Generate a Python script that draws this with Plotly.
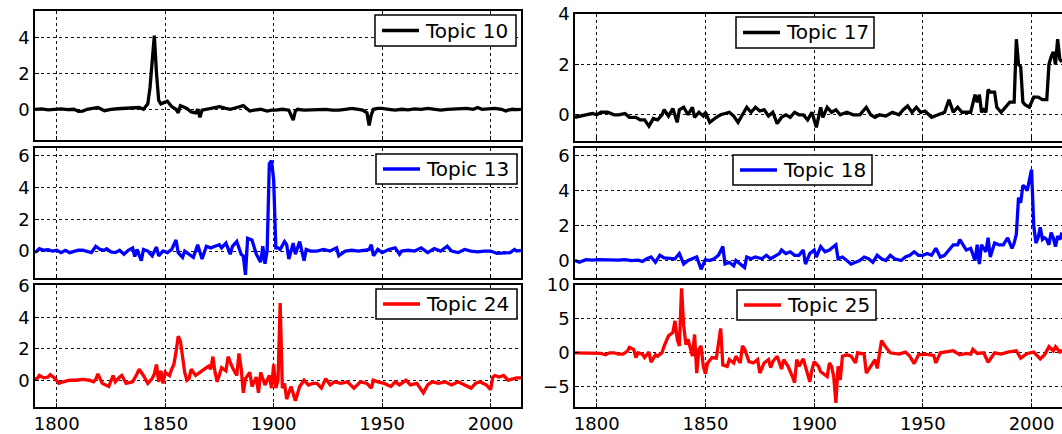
import plotly.graph_objects as go

# ---------------- data ----------------
years_10 = [1790, 1793, 1796, 1799, 1802, 1805, 1808, 1810, 1812, 1814,
            1816, 1819, 1822, 1825, 1828, 1831, 1834, 1836, 1838, 1840,
            1842, 1843, 1844, 1845, 1846, 1847, 1848, 1849, 1851, 1853,
            1855, 1856, 1857, 1858, 1860, 1862, 1864, 1865, 1866, 1867,
            1869, 1872, 1875, 1878, 1880, 1883, 1886, 1888, 1889, 1891,
            1894, 1897, 1899, 1901, 1904, 1907, 1908, 1909, 1910, 1911,
            1914, 1917, 1920, 1924, 1927, 1930, 1933, 1936, 1939, 1941,
            1943, 1944, 1945, 1946, 1948, 1950, 1953, 1956, 1959, 1962,
            1965, 1968, 1971, 1974, 1977, 1980, 1983, 1986, 1989, 1992,
            1994, 1996, 1999, 2002, 2005, 2007, 2008, 2010, 2012, 2014]
topic_10 = [0.0, 0.02, -0.03, 0.0, 0.02, -0.02, 0.0, -0.12, -0.1, 0.0,
            0.05, 0.1, -0.08, 0.0, 0.03, 0.05, 0.08, 0.05, 0.1, 0.0,
            0.3, 1.2, 2.8, 4.1, 2.0, 0.5, 0.3, 0.35, 0.45, 0.15,
            0.0, -0.2, 0.2, 0.15, 0.05, -0.15, -0.2, 0.0, -0.45, -0.05,
            0.0, 0.05, 0.15, 0.05, 0.0, 0.1, 0.2, 0.0, -0.1, -0.05,
            0.0, -0.1, -0.05, -0.05, 0.0, -0.05, -0.3, -0.6, -0.1, 0.0,
            -0.05, -0.03, 0.0, 0.0, -0.05, -0.05, 0.0, 0.05, 0.0, -0.05,
            -0.2, -0.9, -0.3, 0.0, 0.05, 0.05, 0.0, -0.05, 0.0, -0.03,
            0.02, 0.0, 0.05, 0.0, -0.05, 0.0, 0.02, 0.0, 0.05, 0.0,
            0.1, 0.0, 0.02, 0.05, 0.0, -0.1, -0.05, 0.0, -0.02, 0.0]

years_13 = [1790, 1791, 1792, 1794, 1796, 1798, 1800, 1802, 1804, 1806,
            1808, 1810, 1812, 1814, 1816, 1818, 1820, 1822, 1823, 1825,
            1827, 1829, 1831, 1833, 1835, 1836, 1837, 1839, 1840, 1842,
            1844, 1846, 1847, 1849, 1851, 1853, 1855, 1856, 1858, 1859,
            1861, 1863, 1865, 1867, 1869, 1871, 1873, 1875, 1876, 1878,
            1880, 1881, 1883, 1885, 1886, 1887, 1888, 1890, 1892, 1894,
            1895, 1896, 1897, 1898, 1899, 1900, 1901, 1902, 1903, 1905,
            1906, 1907, 1909, 1910, 1912, 1914, 1915, 1917, 1920, 1923,
            1926, 1929, 1930, 1933, 1936, 1939, 1942, 1944, 1945, 1946,
            1948, 1950, 1953, 1956, 1958, 1959, 1962, 1965, 1968, 1971,
            1974, 1977, 1980, 1982, 1985, 1988, 1991, 1994, 1997, 2000,
            2003, 2006, 2009, 2011, 2012, 2014]
topic_13 = [-0.1, 0.05, 0.15, 0.05, 0.08, 0.0, 0.05, -0.1, 0.05, -0.1,
            0.0, 0.05, 0.05, 0.0, -0.1, 0.3, 0.1, 0.05, 0.15, -0.05,
            -0.1, 0.05, -0.2, 0.05, 0.2, -0.35, 0.1, -0.6, 0.1, 0.0,
            -0.3, 0.25, -0.3, 0.0, -0.1, 0.1, 0.7, -0.1, -0.4, 0.0,
            -0.2, -0.4, 0.4, -0.5, 0.3, 0.2, 0.3, 0.4, 0.2, 0.5,
            -0.2, 0.3, 0.6, -0.2, -0.3, -1.5, 0.8, 0.7, -0.2, -0.7,
            0.3, -0.8, 0.0, 5.5, 5.7, 4.5, 0.2, 0.2, 0.1, 0.6,
            0.4, -0.5, 0.5, -0.2, 0.6, -0.6, 0.1, 0.0, 0.0, 0.1,
            0.0, 0.2, -0.3, 0.0, 0.05, 0.0, 0.05, 0.1, 0.4, -0.3,
            0.1, -0.1, 0.1, 0.2, -0.2, 0.0, 0.05, 0.0, 0.2, -0.1,
            0.15, 0.0, 0.3, 0.0, -0.1, 0.1, 0.0, -0.05, 0.0, 0.0,
            -0.15, -0.1, -0.1, 0.1, 0.0, 0.05]

years_24 = [1790, 1791, 1792, 1794, 1796, 1797, 1799, 1801, 1803, 1806,
            1809, 1812, 1815, 1817, 1818, 1819, 1821, 1823, 1824, 1826,
            1827, 1829, 1830, 1832, 1835, 1837, 1838, 1840, 1842, 1844,
            1845, 1846, 1847, 1848, 1849, 1850, 1852, 1853, 1854, 1855,
            1856, 1857, 1858, 1859, 1860, 1861, 1862, 1864, 1866, 1868,
            1870, 1871, 1872, 1873, 1874, 1876, 1878, 1879, 1881, 1883,
            1884, 1885, 1886, 1887, 1889, 1890, 1892, 1893, 1894, 1896,
            1898, 1899, 1900, 1901, 1902, 1903, 1904, 1905, 1906, 1908,
            1910, 1912, 1914, 1916, 1918, 1920, 1922, 1924, 1926, 1928,
            1931, 1934, 1937, 1940, 1943, 1945, 1946, 1948, 1951, 1954,
            1956, 1958, 1961, 1963, 1966, 1969, 1971, 1973, 1976, 1979,
            1982, 1985, 1988, 1991, 1993, 1995, 1998, 2000, 2001, 2002,
            2004, 2006, 2008, 2010, 2012, 2014]
topic_24 = [0.1, 0.1, 0.3, 0.15, 0.2, 0.35, 0.15, -0.2, -0.1, 0.0,
            0.0, 0.05, 0.0, -0.1, 0.05, 0.4, -0.2, -0.3, -0.4, 0.3,
            -0.1, 0.2, 0.3, -0.2, -0.1, 0.4, 0.7, 0.3, -0.2, 0.1,
            0.4, 1.0, -0.1, 0.6, -0.2, 0.5, 0.3, 0.7, 1.0, 1.8,
            2.8, 2.5, 1.5, 0.5, 0.0, 0.1, 0.7, 0.3, 0.5, 0.7,
            0.9, 0.7, 1.5, 0.5, -0.1, 0.8, 0.6, 1.5, 0.8, 0.3,
            1.7, 0.8, -0.8, 0.1, 0.5, -0.4, 0.2, -0.8, 0.5, -0.3,
            0.3, -0.5, 1.0, -0.5, 0.0, 4.9, -0.5, -0.2, -1.2, -0.4,
            -1.3, -0.4, 0.0, -0.3, -0.2, -0.2, -0.5, 0.1, -0.3, -0.1,
            -0.2, -0.1, -0.5, -0.1, -0.2, -0.5, 0.0, -0.1, -0.2, -0.4,
            -0.1, -0.3, 0.0, -0.3, -0.2, -0.8, -0.3, -0.1, -0.2, -0.1,
            -0.3, -0.1, -0.3, -0.5, -0.2, -0.1, -0.3, -0.6, 0.2, 0.3,
            0.2, 0.3, 0.0, 0.1, 0.15, 0.15]

years_17 = [1790, 1792, 1795, 1798, 1800, 1802, 1805, 1808, 1810, 1813,
            1815, 1818, 1820, 1822, 1824, 1826, 1828, 1830, 1831, 1833,
            1835, 1837, 1838, 1840, 1842, 1844, 1845, 1847, 1849, 1850,
            1852, 1855, 1857, 1859, 1861, 1863, 1865, 1867, 1869, 1871,
            1873, 1875, 1877, 1879, 1881, 1883, 1885, 1887, 1889, 1891,
            1893, 1895, 1897, 1899, 1901, 1903, 1904, 1906, 1908, 1910,
            1912, 1915, 1918, 1921, 1924, 1926, 1928, 1930, 1933, 1936,
            1939, 1941, 1943, 1945, 1947, 1949, 1951, 1954, 1957, 1960,
            1962, 1964, 1966, 1968, 1970, 1972, 1974, 1975, 1976, 1977,
            1978, 1979, 1980, 1981, 1983, 1984, 1986, 1988, 1990, 1992,
            1993, 1994, 1995, 1996, 1997, 1999, 2001, 2003, 2005, 2007,
            2008, 2009, 2010, 2011, 2012, 2013, 2014]
topic_17 = [-0.1, -0.05, 0.0, 0.05, 0.0, 0.1, 0.1, 0.0, 0.0, 0.05,
            -0.1, -0.1, -0.2, -0.2, -0.45, -0.15, -0.2, 0.0, 0.2, -0.05,
            0.25, -0.3, 0.2, 0.3, 0.0, 0.3, -0.1, 0.1, -0.05, 0.1,
            -0.3, -0.1, 0.0, 0.05, 0.1, -0.05, -0.3, 0.0, 0.3, 0.1,
            0.3, 0.15, 0.2, -0.05, 0.1, -0.35, -0.1, 0.0, -0.1, 0.1,
            0.0, 0.0, -0.2, 0.1, -0.5, 0.3, -0.1, 0.3, 0.1, 0.2,
            0.0, 0.1, 0.0, 0.0, 0.3, 0.0, -0.1, 0.0, -0.05, 0.1,
            0.0, 0.2, 0.35, 0.1, 0.3, 0.1, 0.15, -0.1, 0.0, 0.1,
            0.6, 0.1, 0.3, 0.1, 0.1, 0.1, 0.8, 0.5, 0.8, 0.1,
            0.2, 0.1, 1.0, 0.9, 0.9, 0.3, 0.1, 0.3, 0.5, 0.5,
            3.0, 2.0, 1.9, 0.5, 0.4, 0.3, 0.7, 0.7, 0.6, 0.6,
            2.0, 2.3, 2.5, 2.0, 3.0, 2.2, 2.1]

years_18 = [1790, 1792, 1795, 1798, 1801, 1804, 1807, 1810, 1813, 1816,
            1819, 1821, 1823, 1825, 1827, 1829, 1831, 1834, 1836, 1838,
            1840, 1842, 1845, 1846, 1848, 1850, 1852, 1854, 1856, 1858,
            1859, 1861, 1863, 1864, 1866, 1868, 1869, 1871, 1873, 1876,
            1878, 1880, 1882, 1884, 1885, 1887, 1889, 1891, 1893, 1895,
            1896, 1898, 1900, 1901, 1903, 1905, 1907, 1910, 1911, 1913,
            1915, 1917, 1919, 1921, 1923, 1925, 1927, 1929, 1931, 1933,
            1935, 1937, 1940, 1942, 1944, 1946, 1948, 1950, 1952, 1954,
            1956, 1958, 1960, 1962, 1964, 1966, 1967, 1969, 1970, 1972,
            1974, 1975, 1976, 1977, 1979, 1980, 1981, 1983, 1985, 1987,
            1989, 1991, 1992, 1993, 1994, 1995, 1996, 1997, 1998, 2000,
            2001, 2002, 2003, 2004, 2005, 2006, 2007, 2008, 2009, 2010,
            2011, 2012, 2013, 2014]
topic_18 = [0.0, -0.1, 0.05, 0.02, 0.05, 0.03, 0.05, 0.02, 0.05, 0.0,
            0.02, -0.05, 0.1, 0.2, -0.1, 0.3, 0.15, 0.1, 0.1, 0.4,
            -0.2, 0.0, 0.15, 0.2, -0.5, 0.05, 0.0, 0.1, 0.3, 0.8,
            -0.2, -0.1, -0.3, 0.0, -0.2, -0.4, 0.2, 0.1, 0.2, 0.1,
            0.3, 0.1, 0.25, 0.4, 0.6, 0.4, 0.5, 0.3, 0.3, 0.6,
            -0.2, 0.4, 0.6, 0.2, 0.8, 0.5, 0.6, 0.9, 0.1, 0.2,
            0.0, -0.2, -0.1, 0.0, 0.2, 0.1, -0.1, 0.3, 0.1, 0.0,
            0.3, 0.1, 0.0, 0.2, 0.3, 0.5, 0.3, 0.3, 0.4, 0.3,
            0.7, 0.2, 0.3, 0.6, 0.9, 0.9, 1.2, 0.8, 0.6, 0.7,
            0.0, 0.9, -0.2, 0.9, 0.5, 1.3, 0.2, 1.0, 0.9, 0.9,
            1.3, 0.7, 1.0, 1.5, 3.6, 3.3, 4.3, 4.2, 4.0, 5.2,
            2.0, 1.0, 1.3, 1.9, 1.2, 1.3, 1.2, 0.9, 1.6, 1.3,
            0.8, 1.4, 1.2, 1.6]

years_25 = [1790, 1793, 1796, 1799, 1802, 1804, 1806, 1808, 1810, 1812,
            1814, 1815, 1817, 1818, 1819, 1821, 1822, 1824, 1825, 1827,
            1828, 1830, 1831, 1833, 1835, 1836, 1837, 1838, 1839, 1840,
            1841, 1842, 1843, 1844, 1845, 1846, 1847, 1848, 1849, 1850,
            1851, 1853, 1855, 1857, 1858, 1860, 1861, 1863, 1864, 1866,
            1867, 1868, 1870, 1872, 1874, 1875, 1877, 1879, 1880, 1881,
            1883, 1885, 1886, 1888, 1890, 1891, 1892, 1893, 1895, 1896,
            1898, 1899, 1900, 1902, 1903, 1906, 1907, 1908, 1909, 1910,
            1911, 1912, 1913, 1915, 1917, 1919, 1920, 1923, 1924, 1926,
            1928, 1929, 1931, 1933, 1935, 1939, 1942, 1944, 1946, 1948,
            1951, 1955, 1956, 1958, 1961, 1964, 1967, 1970, 1972, 1973,
            1975, 1978, 1980, 1983, 1986, 1989, 1993, 1995, 1998, 2001,
            2004, 2006, 2008, 2010, 2011, 2013, 2014]
topic_25 = [0.0, 0.0, -0.1, 0.0, -0.1, -0.3, 0.0, 0.0, -0.2, -0.2,
            0.2, 0.8, 0.5, -0.7, 0.0, -0.2, -0.7, 0.1, -1.4, -0.3,
            -0.5, 0.0, 1.0, 2.5, 3.0, 4.7, 2.0, 1.0, 9.5, 4.0,
            1.2, 2.0, 0.8, -0.5, 2.7, -3.0, 0.5, 1.0, -2.0, -3.1,
            -1.5, -0.7, -0.8, 3.6, -1.8, -2.0, -1.0, -1.5, -0.5, -1.5,
            1.0, 0.6, -1.3, -1.5, -1.0, -3.0, -1.5, -1.0, -2.2, -1.3,
            -0.5, -2.4, -1.0, -2.0, -3.5, -4.4, -1.0, -2.0, -0.9, -2.0,
            -4.3, -2.5, -1.3, -2.0, -2.8, -3.5, -1.5, -2.0, -3.5, -7.4,
            -2.0, -4.0, -0.5, -0.3, -0.5, -1.5, 0.0, -0.2, -3.0, -2.0,
            -1.0, -2.3, 1.8, 0.8, 0.0, -0.2, 0.1, -0.5, -1.6, -0.3,
            -0.2, -0.4, -1.5, 0.0, 0.1, 0.3, -0.3, -0.1, -0.2, 0.5,
            -0.1, 0.0, -1.4, 0.0, -0.2, 0.1, 0.3, -0.8, -0.1, 0.1,
            -0.9, -0.3, 0.9, 0.3, 0.9, 0.1, 0.4]

names = ["Topic 10", "Topic 13", "Topic 24", "Topic 17", "Topic 18", "Topic 25"]
colors = ["#000000", "#0000ff", "#ff0000", "#000000", "#0000ff", "#ff0000"]
x_ticks = [1800, 1850, 1900, 1950, 2000]

series = [(years_10, topic_10), (years_13, topic_13), (years_24, topic_24),
          (years_17, topic_17), (years_18, topic_18), (years_25, topic_25)]
for xs, ys in series:
    assert len(xs) == len(ys), (len(xs), len(ys))

# ---------------- layout ----------------
W, H = 1062, 434
FONT = "DejaVu Sans, Liberation Sans, Arial, sans-serif"

def fx(p):
    return p / W

def fy(p):
    return 1 - p / H

xdoms = [[35 / W, 521 / W]] * 3 + [[575 / W, 1.0]] * 3
ydoms = [[fy(140), fy(11)], [fy(278), fy(148)], [fy(407), fy(285)],
         [fy(141), fy(14)], [fy(278), fy(148)], [fy(407), fy(285)]]
yranges = [[-1.71, 5.47], [-1.7, 6.5], [-1.7, 6.05],
           [-1.04, 4.0], [-1.0, 6.44], [-8.0, 10.0]]
yticks = [[0, 2, 4], [0, 2, 4, 6], [0, 2, 4, 6],
          [0, 2, 4], [0, 2, 4, 6], [-5, 0, 5, 10]]
# legend boxes in pixels: (left, top, right, bottom)
legbox = [(375, 15, 516, 46), (376, 154, 517, 184), (376, 289, 517, 319),
          (736, 17, 874, 48), (733, 155, 872, 185), (737, 290, 876, 320)]

fig = go.Figure()
shapes, annos = [], []
layout = dict(width=W, height=H,
              margin=dict(l=0, r=0, t=0, b=0, pad=0, autoexpand=False),
              paper_bgcolor="white", plot_bgcolor="white", showlegend=False,
              font=dict(family=FONT, size=18, color="#000000"))

for i, ((xs, ys), name, col) in enumerate(zip(series, names, colors)):
    k = i + 1
    sfx = "" if k == 1 else str(k)
    fig.add_trace(go.Scatter(x=xs, y=ys, mode="lines", name=name,
                             line=dict(color=col, width=3.3),
                             xaxis="x" + sfx, yaxis="y" + sfx, showlegend=False))
    bottom = k in (3, 6)
    common = dict(showgrid=True, gridcolor="#111111", griddash="dot", gridwidth=1,
                  showline=True, mirror=True, linecolor="black", linewidth=1.5,
                  ticks="inside", ticklen=4, tickcolor="black", automargin=False,
                  zeroline=False, tickfont=dict(size=18, family=FONT))
    layout["xaxis" + sfx] = dict(domain=xdoms[i], anchor="y" + sfx, range=[1790, 2014],
                                 tickvals=x_ticks, showticklabels=bottom, **common)
    layout["yaxis" + sfx] = dict(domain=ydoms[i], anchor="x" + sfx, range=yranges[i],
                                 tickvals=yticks[i], **common)
    # legend box for this panel
    l, t, r, b = legbox[i]
    mid = (t + b) / 2
    shapes.append(dict(type="rect", xref="paper", yref="paper", layer="above",
                       x0=fx(l), x1=fx(r), y0=fy(b), y1=fy(t),
                       fillcolor="white", line=dict(color="black", width=1.5)))
    shapes.append(dict(type="line", xref="paper", yref="paper", layer="above",
                       x0=fx(l + 7), x1=fx(l + 44), y0=fy(mid), y1=fy(mid),
                       line=dict(color=col, width=3.3)))
    annos.append(dict(text=name, xref="paper", yref="paper", showarrow=False,
                      x=fx(l + 48), y=fy(mid), xanchor="left", yanchor="middle",
                      font=dict(size=20, family=FONT, color="black")))

layout["shapes"] = shapes
layout["annotations"] = annos
fig.update_layout(**layout)
fig.write_html("out.html")
